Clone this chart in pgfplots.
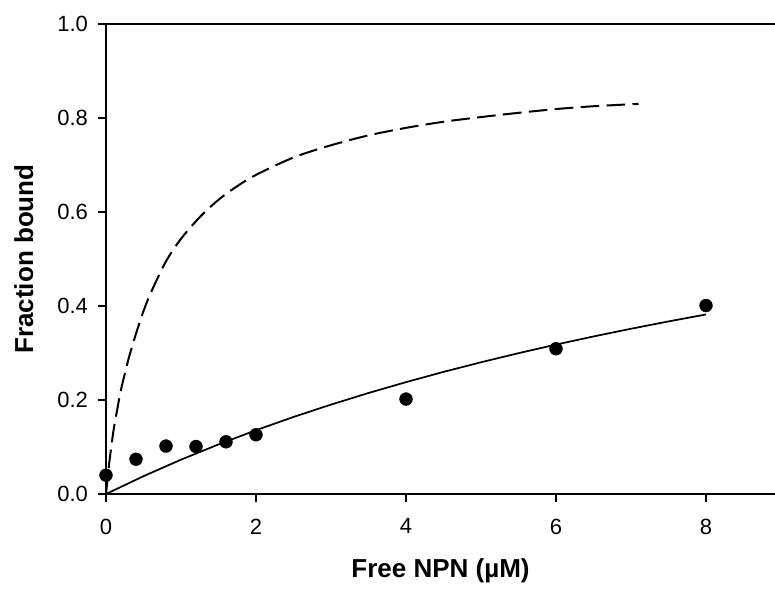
\documentclass[border=0pt]{standalone}
\usepackage{fontspec}
\setmainfont{Liberation Sans}
\usepackage{pgfplots}
\pgfplotsset{compat=1.18}

\begin{document}
\begin{tikzpicture}
% page = 775x589 px at 0.75pt/px, axis origin at (106px, 494px)
\useasboundingbox (-79.5pt,-71.25pt) rectangle (501.75pt,370.5pt);
\begin{axis}[
    scale only axis,
    width=501.75pt,
    height=352.5pt,
    xmin=0, xmax=8.92,
    ymin=0, ymax=1.0,
    axis x line*=box,
    axis y line*=left,
    axis line style={line width=1.5pt, -},
    xtick={0,2,4,6,8},
    ytick={0,0.2,0.4,0.6,0.8,1.0},
    xtick pos=bottom, ytick pos=left,
    tick align=outside,
    major tick length=6pt,
    every tick/.style={black, line width=1.3pt},
    /pgf/number format/assume math mode=true,
    xticklabel={\mbox{\fontsize{16.5}{18}\selectfont\pgfmathprintnumber{\tick}}},
    yticklabel={\mbox{\fontsize{16.5}{18}\selectfont\pgfmathprintnumber[fixed, fixed zerofill, precision=1]{\tick}}},
    xticklabel style={yshift=-9pt},
    yticklabel style={xshift=-4pt},
    label style={font=\fontsize{19.5}{22}\selectfont\bfseries},
    xlabel={Free NPN (\textmu M)},
    ylabel={Fraction bound},
    xlabel style={at={(axis description cs:0.5,-0.1787)}, anchor=base},
    ylabel style={at={(axis description cs:-0.1091,0.5)}, anchor=base},
    clip=false,
]
% fitted curve through the data
\addplot[black, line width=1.3pt] coordinates {
    (0,0) (0.5,0.0379) (1,0.0730) (1.5,0.1055) (2,0.1357) (2.5,0.1639)
    (3,0.1902) (3.5,0.2149) (4,0.2380) (4.5,0.2598) (5,0.2803) (5.5,0.2996)
    (6,0.3179) (6.5,0.3352) (7,0.3516) (7.5,0.3672) (8,0.3820)
};
% dashed curve
\addplot[black, line width=1.5pt, dash pattern=on 14pt off 5.5pt, smooth] coordinates {
    (0,0) (0.02,0.030) (0.05,0.075) (0.1,0.135) (0.15,0.180) (0.2,0.222)
    (0.3,0.287) (0.4,0.341) (0.5,0.389) (0.6,0.429) (0.8,0.495) (1.0,0.543)
    (1.25,0.589) (1.5,0.626) (1.75,0.655) (2,0.679) (2.5,0.716) (3,0.742)
    (3.5,0.763) (4,0.779) (4.5,0.792) (5,0.802) (5.5,0.811) (6,0.819)
    (6.5,0.825) (7.1,0.830)
};
% measured points
\addplot[only marks, mark=*, mark size=4.8pt, black] coordinates {
    (0,0.040) (0.4,0.074) (0.8,0.102) (1.2,0.101) (1.6,0.111) (2,0.126)
    (4,0.202) (6,0.309) (8,0.401)
};
\end{axis}
\end{tikzpicture}
\end{document}
